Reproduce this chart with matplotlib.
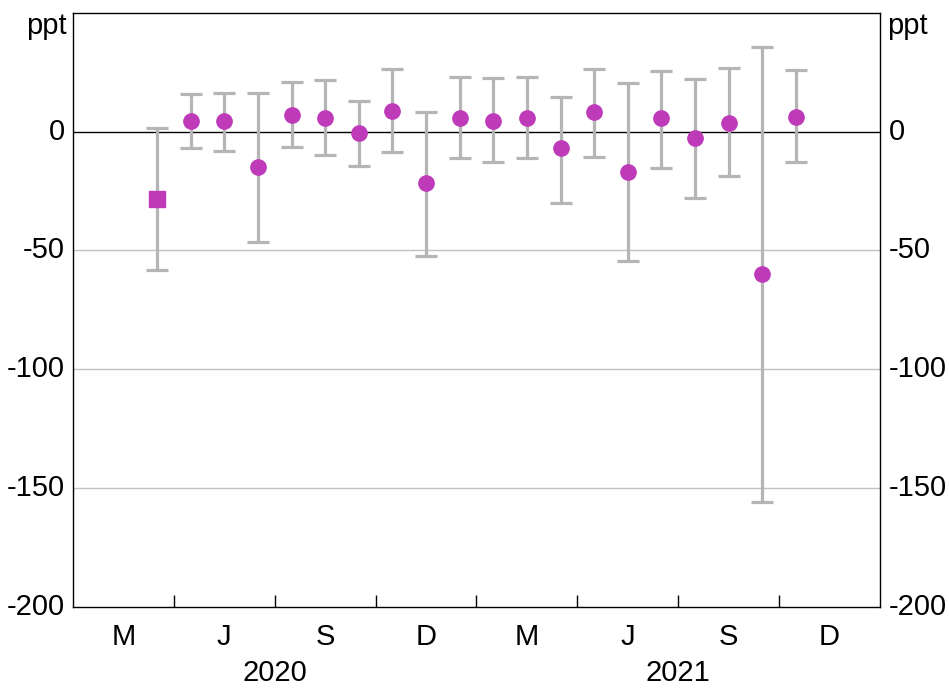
import matplotlib
matplotlib.use("Agg")
import matplotlib.pyplot as plt
import numpy as np

plt.rcParams["font.family"] = ["Liberation Sans", "DejaVu Sans"]

# Monthly observations, Mar 2020 - Oct 2021 (month index 2 = Mar 2020)
month_index = list(range(2, 22))
estimate = [-28.5, 4.6, 4.6, -14.7, 7.1, 5.9, -0.4, 8.8, -21.8, 5.9,
            4.6, 5.9, -7.1, 8.4, -16.8, 5.5, -2.9, 3.8, -60.0, 6.3]
upper = [1.7, 16.0, 16.4, 16.4, 21.0, 21.8, 13.0, 26.4, 8.4, 23.0,
         22.7, 23.0, 14.7, 26.4, 20.6, 25.6, 22.3, 26.9, 35.7, 26.0]
lower = [-58.4, -7.0, -8.0, -46.6, -6.7, -10.0, -14.3, -8.8, -52.5, -11.3,
         -13.0, -11.3, -30.0, -10.5, -54.6, -15.5, -28.1, -18.9, -155.8, -13.0]

quarter_labels = ["M", "J", "S", "D", "M", "J", "S", "D"]
years = ["2020", "2021"]
y_ticks = [0, -50, -100, -150, -200]

x = np.array(month_index) + 0.5
est = np.array(estimate)
err = np.vstack([est - np.array(lower), np.array(upper) - est])

fig = plt.figure(figsize=(9.49, 6.91), dpi=100)
ax = fig.add_axes([0.0769, 0.1216, 0.8504, 0.86])

grey = "#b5b5b5"
purple = "#bf3ab9"

for yv in [-50, -100, -150]:
    ax.axhline(yv, color="#c0c0c0", lw=1.0, zorder=0)
ax.axhline(0, color="black", lw=1.0, zorder=1)

ax.errorbar(x, est, yerr=err, fmt="none", ecolor=grey, elinewidth=2.3,
            capsize=8, capthick=2.3, zorder=2)
ax.plot(x[:1], est[:1], "s", color=purple, markersize=11, zorder=3)
ax.plot(x[1:], est[1:], "o", color=purple, markersize=11, zorder=3)

ax.set_xlim(0, 24)
ax.set_ylim(-200, 50)

# quarter boundary ticks on bottom
ax.set_xticks(np.arange(3, 24, 3))
ax.set_xticklabels([])
ax.tick_params(axis="x", direction="in", length=9, width=1, color="black")
ax.set_yticks([])

for s in ax.spines.values():
    s.set_color("black")
    s.set_linewidth(1)

fs = 21
for yv in y_ticks:
    ax.text(-0.25, yv, str(yv), transform=ax.transData, ha="right", va="center",
            fontsize=fs)
    ax.text(24.25, yv, str(yv), transform=ax.transData, ha="left", va="center",
            fontsize=fs)
ax.text(-0.2, 44.5, "ppt", ha="right", va="center", fontsize=fs)
ax.text(24.2, 44.5, "ppt", ha="left", va="center", fontsize=fs)

for i, lab in enumerate(quarter_labels):
    ax.text(i * 3 + 1.5, -212.8, lab, ha="center", va="center", fontsize=fs)
for i, yr in enumerate(years):
    ax.text(i * 12 + 6, -227.8, yr, ha="center", va="center", fontsize=fs)

fig.savefig("out.png", dpi=100)
